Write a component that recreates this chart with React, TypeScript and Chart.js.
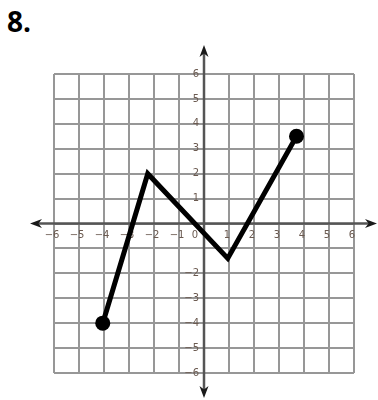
import React, { useEffect, useRef } from "react";
import { Chart, registerables } from "chart.js";

Chart.register(...registerables);

// Path vertices
const pointX = [-4.05, -2.25, 0.95, 3.7];
const pointY = [-4, 2, -1.4, 3.5];
// Only the two ends carry a dot
const pointDot = [true, false, false, true];

const xTickValues = [-6, -5, -4, -3, -2, -1, 0, 1, 2, 3, 4, 5, 6];
const xTickLabels = ["−6", "−5", "−4", "−3", "−2", "−1", "0", "1", "2", "3", "4", "5", "6"];
const yTickValues = [6, 5, 4, 3, 2, 1, -2, -3, -4, -5, -6];
const yTickLabels = ["6", "5", "4", "3", "2", "1", "−2", "−3", "−4", "−5", "−6"];

const axesPlugin = {
  id: "axesPlugin",
  beforeDatasetsDraw(chart: any) {
    const ctx = chart.ctx;
    const xs = chart.scales.x;
    const ys = chart.scales.y;
    const x0 = xs.getPixelForValue(0);
    const y0 = ys.getPixelForValue(0);
    const left = xs.getPixelForValue(-6) - 24;
    const right = xs.getPixelForValue(6) + 23;
    const top = ys.getPixelForValue(6) - 29;
    const bottom = ys.getPixelForValue(-6) + 25;
    ctx.save();
    ctx.strokeStyle = "#555555";
    ctx.fillStyle = "#1a1a1a";
    ctx.lineWidth = 2.5;
    ctx.beginPath();
    ctx.moveTo(left + 6, y0);
    ctx.lineTo(right - 6, y0);
    ctx.moveTo(x0, top + 6);
    ctx.lineTo(x0, bottom - 6);
    ctx.stroke();
    const head = (tx: number, ty: number, dx: number, dy: number) => {
      const len = 12;
      const half = 4.5;
      const bx = tx - dx * len;
      const by = ty - dy * len;
      const nx = -dy;
      const ny = dx;
      ctx.beginPath();
      ctx.moveTo(tx, ty);
      ctx.lineTo(bx + nx * half, by + ny * half);
      ctx.lineTo(tx - dx * len * 0.7, ty - dy * len * 0.7);
      ctx.lineTo(bx - nx * half, by - ny * half);
      ctx.closePath();
      ctx.fill();
    };
    head(left, y0, -1, 0);
    head(right, y0, 1, 0);
    head(x0, top, 0, -1);
    head(x0, bottom, 0, 1);

    ctx.font = "10px 'DejaVu Sans'";
    ctx.fillStyle = "#6b5a50";
    ctx.textBaseline = "middle";
    ctx.textAlign = "center";
    xTickValues.forEach((v, i) => {
      let px = xs.getPixelForValue(v) - 2;
      if (v === 0) px = x0 - 9;
      ctx.fillText(xTickLabels[i], px, y0 + 12);
    });
    ctx.textAlign = "right";
    yTickValues.forEach((v, i) => {
      ctx.fillText(yTickLabels[i], x0 - 5, ys.getPixelForValue(v));
    });
    ctx.restore();
  },
};

export default function App() {
  const ref = useRef<HTMLCanvasElement | null>(null);
  useEffect(() => {
    if (!ref.current) return;
    const chart = new Chart(ref.current, {
      type: "scatter",
      data: {
        datasets: [
          {
            data: pointX.map((x, i) => ({ x, y: pointY[i] })),
            showLine: true,
            borderColor: "#000000",
            backgroundColor: "#000000",
            borderWidth: 5,
            borderJoinStyle: "miter",
            borderCapStyle: "round",
            pointRadius: pointDot.map((d) => (d ? 7.5 : 0)),
            pointBorderWidth: 0,
            pointBackgroundColor: "#000000",
            clip: false,
          } as any,
        ],
      },
      options: {
        animation: false,
        responsive: false,
        layout: { padding: { left: 54, right: 24, top: 74, bottom: 27 } },
        plugins: { legend: { display: false }, tooltip: { enabled: false } },
        scales: {
          x: {
            type: "linear",
            min: -6,
            max: 6,
            ticks: { display: false, stepSize: 1 },
            grid: { color: "#979797", lineWidth: 2, drawTicks: false },
            border: { display: false },
          },
          y: {
            type: "linear",
            min: -6,
            max: 6,
            ticks: { display: false, stepSize: 1 },
            grid: { color: "#979797", lineWidth: 2, drawTicks: false },
            border: { display: false },
          },
        },
      },
      plugins: [axesPlugin],
    });
    return () => chart.destroy();
  }, []);
  return (
    <div style={{ position: "absolute", left: 0, top: 0, width: 378, height: 400, background: "#fff" }}>
      <div
        style={{
          position: "absolute",
          left: 7,
          top: 7,
          fontFamily: "'Open Sans', 'Liberation Sans', sans-serif",
          fontWeight: 700,
          fontSize: 28,
          lineHeight: 1,
          color: "#000",
        }}
      >
        8.
      </div>
      <canvas ref={ref} width={378} height={400} style={{ position: "absolute", left: 0, top: 0 }} />
    </div>
  );
}
